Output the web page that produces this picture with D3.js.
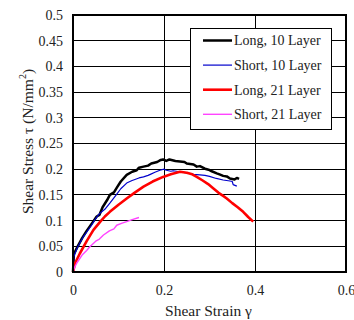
<!DOCTYPE html>
<html>
<head>
<meta charset="utf-8">
<script src="https://cdn.jsdelivr.net/npm/d3@7"></script>
<style>
  body { margin: 0; background: #fff; }
  text { font-family: "Liberation Serif", "Times New Roman", serif; fill: #222; }
</style>
</head>
<body>
<div id="chart"></div>
<script>
// tick values
var xTicks = [0, 0.2, 0.4, 0.6];
var yTicks = [0, 0.05, 0.1, 0.15, 0.2, 0.25, 0.3, 0.35, 0.4, 0.45, 0.5];
var xGrid = [0.2, 0.4];

// series, [strain, stress]
var long10 = [[0,0],[0.002,0.035],[0.008,0.046],[0.02,0.066],[0.03,0.08],[0.045,0.099],[0.052,0.108],[0.058,0.111],[0.065,0.126],
  [0.075,0.14],[0.081,0.15],[0.09,0.155],[0.097,0.165],[0.105,0.176],[0.118,0.189],[0.13,0.195],[0.14,0.198],[0.145,0.203],[0.155,0.205],
  [0.165,0.207],[0.172,0.211],[0.185,0.214],[0.193,0.218],[0.198,0.219],[0.205,0.216],[0.212,0.219],[0.225,0.216],[0.235,0.215],[0.245,0.214],[0.25,0.211],[0.265,0.209],
  [0.272,0.205],[0.279,0.206],[0.29,0.201],[0.298,0.199],[0.305,0.196],[0.316,0.192],[0.322,0.19],[0.33,0.187],[0.338,0.186],[0.345,0.182],[0.355,0.18],[0.36,0.183],[0.365,0.181]];
var short10 = [[0,0],[0.002,0.03],[0.01,0.048],[0.023,0.069],[0.04,0.09],[0.05,0.104],[0.055,0.11],[0.059,0.114],[0.07,0.122],[0.081,0.134],
  [0.095,0.15],[0.105,0.162],[0.118,0.173],[0.125,0.176],[0.13,0.178],[0.145,0.183],[0.155,0.185],[0.165,0.188],[0.17,0.19],[0.18,0.194],
  [0.191,0.198],[0.2,0.2],[0.205,0.198],[0.215,0.196],[0.22,0.197],[0.235,0.195],[0.25,0.193],[0.265,0.19],[0.279,0.189],[0.29,0.188],[0.3,0.186],
  [0.315,0.182],[0.33,0.179],[0.345,0.177],[0.35,0.176],[0.352,0.17],[0.36,0.167]];
var long21 = [[0,0],[0.005,0.018],[0.015,0.036],[0.03,0.06],[0.045,0.082],[0.06,0.098],[0.07,0.108],[0.081,0.117],[0.1,0.131],
  [0.118,0.143],[0.135,0.154],[0.155,0.166],[0.175,0.176],[0.198,0.185],[0.215,0.19],[0.235,0.195],[0.25,0.193],
  [0.262,0.19],[0.272,0.185],[0.285,0.178],[0.297,0.171],[0.308,0.163],[0.32,0.154],[0.33,0.148],[0.338,0.143],
  [0.35,0.134],[0.362,0.126],[0.374,0.117],[0.385,0.107],[0.396,0.098]];
var short21 = [[0,0],[0.003,0.008],[0.008,0.017],[0.02,0.033],[0.03,0.042],[0.037,0.049],[0.05,0.06],[0.058,0.064],[0.067,0.072],[0.08,0.08],
  [0.09,0.084],[0.096,0.091],[0.108,0.095],[0.118,0.098],[0.13,0.102],[0.145,0.106]];

var seriesNames = ["Long, 10 Layer", "Short, 10 Layer", "Long, 21 Layer", "Short, 21 Layer"];
var seriesData = [long10, short10, long21, short21];
var seriesColors = ["#000000", "#0000cc", "#ff0000", "#ff44ff"];
var seriesWidths = [2.5, 1.2, 2.6, 1.4];

var W = 354, H = 320;
var margin = {left: 73, right: 8, top: 15, bottom: 48};

var svg = d3.select("#chart").append("svg")
  .attr("width", W).attr("height", H);

var x = d3.scaleLinear().domain([0, 0.6]).range([margin.left, W - margin.right]);
var y = d3.scaleLinear().domain([0, 0.5]).range([H - margin.bottom, margin.top]);

// grid
svg.append("g").selectAll("line").data(yTicks.slice(1, -1)).enter().append("line")
  .attr("x1", x(0)).attr("x2", x(0.6))
  .attr("y1", function(d) { return y(d); }).attr("y2", function(d) { return y(d); })
  .attr("stroke", "#000").attr("stroke-width", 1).attr("shape-rendering", "crispEdges");
svg.append("g").selectAll("line").data(xGrid).enter().append("line")
  .attr("x1", function(d) { return x(d); }).attr("x2", function(d) { return x(d); })
  .attr("y1", y(0)).attr("y2", y(0.5))
  .attr("stroke", "#000").attr("stroke-width", 1).attr("shape-rendering", "crispEdges");

// axes (labels only)
var xAxis = svg.append("g").attr("transform", "translate(0," + y(0) + ")")
  .call(d3.axisBottom(x).tickValues(xTicks).tickSize(0).tickPadding(13).tickFormat(d3.format("")));
var yAxis = svg.append("g").attr("transform", "translate(" + x(0) + ",0)")
  .call(d3.axisLeft(y).tickValues(yTicks).tickSize(0).tickPadding(10).tickFormat(d3.format("")));
[xAxis, yAxis].forEach(function(a) {
  a.select(".domain").remove();
  a.selectAll("text").attr("font-size", 14).attr("font-family", "Liberation Serif").attr("fill", "#222");
});

// lines
var line = d3.line().x(function(d) { return x(d[0]); }).y(function(d) { return y(d[1]); });
seriesData.forEach(function(s, i) {
  svg.append("path").datum(s)
    .attr("d", line)
    .attr("fill", "none")
    .attr("stroke", seriesColors[i])
    .attr("stroke-width", seriesWidths[i])
    .attr("stroke-linejoin", "round");
});

// frame
svg.append("rect")
  .attr("x", x(0)).attr("y", y(0.5))
  .attr("width", x(0.6) - x(0)).attr("height", y(0) - y(0.5))
  .attr("fill", "none").attr("stroke", "#000").attr("stroke-width", 2);

// legend
var lg = svg.append("g").attr("transform", "translate(190,28)");
lg.append("rect").attr("width", 141).attr("height", 101)
  .attr("fill", "#fff").attr("stroke", "#000").attr("stroke-width", 1).attr("shape-rendering", "crispEdges");
seriesNames.forEach(function(n, i) {
  var yy = 12.5 + i * 24.6;
  lg.append("line").attr("x1", 13).attr("x2", 42).attr("y1", yy).attr("y2", yy)
    .attr("stroke", seriesColors[i]).attr("stroke-width", seriesWidths[i]);
  lg.append("text").attr("x", 44).attr("y", yy + 4.8).attr("font-size", 14).text(n);
});

// axis titles
svg.append("text").attr("x", (x(0) + x(0.6)) / 2 - 1).attr("y", 316)
  .attr("text-anchor", "middle").attr("font-size", 15.5).text("Shear Strain γ");

var yt = svg.append("text")
  .attr("transform", "translate(33," + (y(0.25) - 2) + ") rotate(-90)")
  .attr("text-anchor", "middle").attr("font-size", 15.5);
yt.append("tspan").text("Shear Stress τ  (N/mm");
yt.append("tspan").attr("font-size", 10).attr("dy", -7).text("2");
yt.append("tspan").attr("dy", 7).text(")");
</script>
</body>
</html>
